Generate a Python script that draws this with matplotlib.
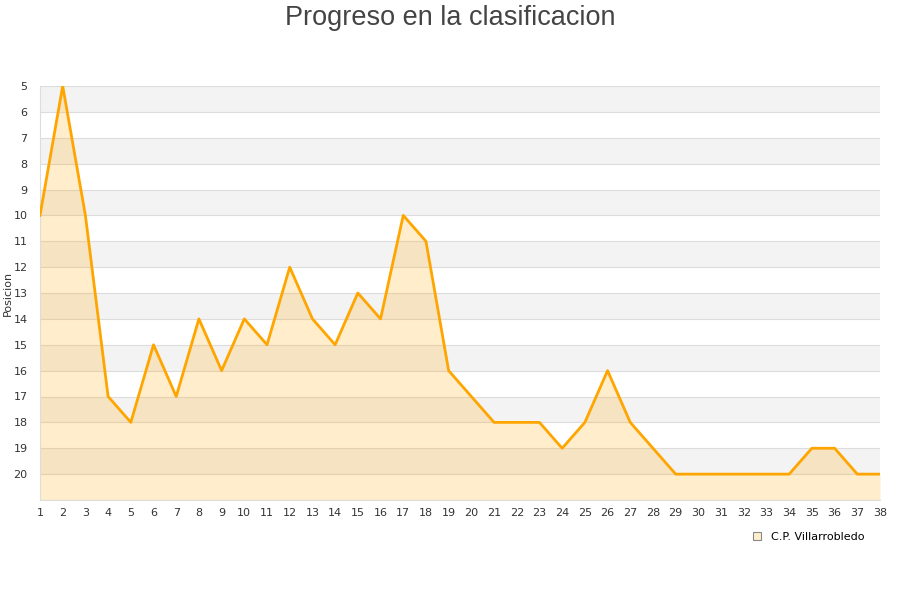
import matplotlib.pyplot as plt
from matplotlib.lines import Line2D

# Jornada / posicion
jornadas = list(range(1, 39))
posicion = [10, 5, 10, 17, 18, 15, 17, 14, 16, 14,
            15, 12, 14, 15, 13, 14, 10, 11, 16, 17,
            18, 18, 18, 19, 18, 16, 18, 19, 20, 20,
            20, 20, 20, 20, 19, 19, 20, 20]
equipo = 'C.P. Villarrobledo'

fig = plt.figure(figsize=(9, 6), dpi=100)
ax = fig.add_axes([40 / 900, 1 - 500 / 600, 840 / 900, 414 / 600])

# Alternating bands
for y in range(5, 21, 2):
    ax.axhspan(y, y + 1, color='#f3f3f3', zorder=0, lw=0)
for y in range(5, 22):
    ax.axhline(y, color='#dddddd', lw=0.8, zorder=1)

ax.fill_between(jornadas, posicion, 21, color='orange', alpha=0.2, lw=0, zorder=2)
ax.plot(jornadas, posicion, color='orange', lw=2, zorder=3)

ax.set_xlim(1, 38)
ax.set_ylim(21, 5)
ax.set_xticks(jornadas)
ax.set_yticks(range(5, 21))
ax.tick_params(labelsize=8, colors='#333333', length=0)
ax.tick_params(axis='x', pad=6)
ax.tick_params(axis='y', pad=9)
for s in ['top', 'right']:
    ax.spines[s].set_visible(False)
ax.spines['left'].set_color('#dddddd')
ax.spines['bottom'].set_color('#dddddd')
ax.set_ylabel('Posicion', fontsize=8, color='#333333')
ax.yaxis.set_label_coords((13 - 40) / 840, 0.5)

fig.text(0.5, 1 - 18 / 600, 'Progreso en la clasificacion', fontsize=19.5,
         color='#444444', ha='center', va='center', family='Liberation Sans')

handle = Line2D([], [], marker='s', ls='', markersize=6,
                markerfacecolor='#ffeecc', markeredgecolor='#888888', markeredgewidth=0.8)
fig.legend([handle], [equipo], loc='center', bbox_to_anchor=(805 / 900, 1 - 537 / 600),
           frameon=False, fontsize=8, handletextpad=0.3)

fig.savefig('out.png', dpi=100)
